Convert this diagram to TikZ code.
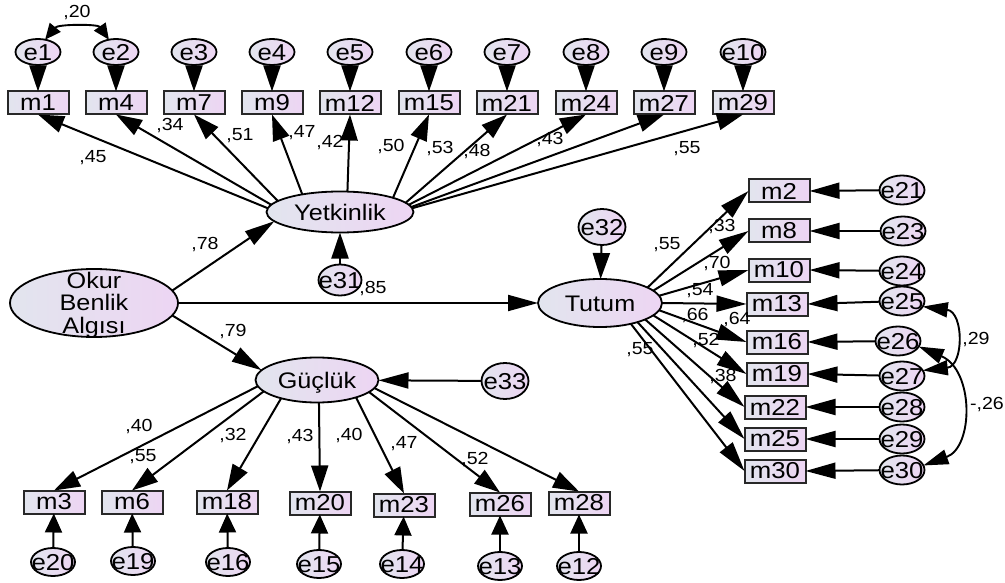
\documentclass[tikz,border=0pt]{standalone}
\usepackage{fontspec}
\setmainfont[FakeStretch=1.12]{Liberation Sans}
\usetikzlibrary{arrows.meta,shapes.geometric}

\definecolor{shadeL}{RGB}{226,229,238}
\definecolor{shadeR}{RGB}{237,213,243}
\definecolor{edgegray}{RGB}{40,40,40}

% zero-size, vertically centred label so that ellipses keep their set size
\newcommand\zc[1]{\raisebox{-.36em}[0pt][0pt]{\makebox[0pt]{#1}}}

\begin{document}
\begin{tikzpicture}[x=1pt,y=-1pt,
  every node/.style={inner sep=0pt,outer sep=0pt},
  obs/.style={draw=edgegray,line width=2pt,left color=shadeL,right color=shadeR,
    minimum width=61pt,minimum height=23pt,font=\fontsize{23}{23}\selectfont},
  err/.style={ellipse,draw=black,line width=1.8pt,left color=shadeL,right color=shadeR,
    minimum width=45pt,minimum height=26pt,font=\fontsize{23}{23}\selectfont},
  errb/.style={err,minimum width=44pt,minimum height=28pt},
  errr/.style={err,minimum width=45pt,minimum height=29pt},
  errc/.style={err,minimum width=47pt,minimum height=36pt},
  lat/.style={ellipse,draw=black,line width=1.8pt,left color=shadeL,right color=shadeR,
    font=\fontsize{22.5}{22.5}\selectfont},
  coef/.style={font=\fontsize{17.5}{17.5}\selectfont},
  arr/.style={line width=2pt,-{Triangle[length=26pt,width=17pt]}},
  arrlong/.style={line width=2pt,-{Triangle[length=30pt,width=16pt]}},
  arrshort/.style={line width=2pt,-{Triangle[length=19pt,width=17pt]}},
  cov/.style={line width=1.9pt,{Triangle[length=16pt,width=14pt]}-{Triangle[length=16pt,width=14pt]}},
  covr/.style={line width=1.9pt,{Triangle[length=25pt,width=15pt]}-{Triangle[length=25pt,width=15pt]}},
]
\useasboundingbox (0,0) rectangle (1005,583);

% ---------- latent variables ----------
\node[lat,minimum width=168pt,minimum height=68pt] (okur) at (94,303) {};
\node[font=\fontsize{22.5}{22.5}\selectfont,align=center] (okurtxt) at (94,305) {Okur\\Benlik\\Algısı};
\node[lat,minimum width=147pt,minimum height=41pt] (yet) at (340,212) {\zc{Yetkinlik}};
\node[lat,minimum width=124pt,minimum height=48pt] (tut) at (600,303) {\zc{Tutum}};
\node[lat,minimum width=123pt,minimum height=45pt] (guc) at (317,380) {\zc{Güçlük}};

% disturbances
\node[err,minimum width=43pt,minimum height=31pt] (e31) at (340,280) {\zc{e31}};
\node[errc] (e32) at (602,227) {\zc{e32}};
\node[errc] (e33) at (505,381) {\zc{e33}};

% ---------- Yetkinlik indicators (top row) ----------
\foreach \n/\e/\x in {m1/e1/38, m4/e2/116, m7/e3/194, m9/e4/272, m12/e5/350,
                      m15/e6/429, m21/e7/507, m24/e8/586, m27/e9/664, m29/e10/743}{
  \node[obs] (\n) at (\x,103) {\n};
  \node[err] (\e) at (\x,52) {\zc{\e}};
  \draw[arr] (\e) -- (\n);
}
\foreach \n/\a in {m1/177, m4/174, m7/170, m9/155, m12/70,
                   m15/15, m21/8, m24/6, m27/4, m29/3}{
  \draw[arr] (yet.\a) -- (\n.south);
}
\draw[cov] (e1.60) .. controls (58,24) and (98,24) .. (e2.120);

% ---------- Tutum indicators (right column) ----------
\foreach \n/\e/\xm/\ym/\xe/\ye/\a in {m2/e21/779/191/902/190/18, m8/e23/779/231/903/231/13,
    m10/e24/779/270/902/271/7, m13/e25/777/304/902/301/0, m16/e26/777/342/898/341/-7,
    m19/e27/777/374/902/376/-13, m22/e28/775/407/902/407/-20,
    m25/e29/775/439/902/439/-27, m30/e30/775/471/902/470/-34}{
  \node[obs] (\n) at (\xm,\ym) {\n};
  \node[errr] (\e) at (\xe,\ye) {\zc{\e}};
  \draw[arrlong] (\e) -- (\n.east);
  \draw[arrlong] (tut.\a) -- (\n.west);
}
\draw[covr] (e25.-15) .. controls (964,312) and (964,366) .. (e27.15);
\draw[covr] (e26.-15) .. controls (974,370) and (974,447) .. (e30.12);

% ---------- Güçlük indicators (bottom row) ----------
\foreach \n/\e/\xm/\ym/\xe/\ye/\a in {m3/e20/54/502/53/562/186, m6/e19/132/502/133/561/192,
    m18/e16/227/502/228/562/207, m20/e15/320/503/319/564/275, m23/e14/404/505/402/564/-24,
    m26/e13/500/504/500/566/-13, m28/e12/579/503/579/566/-8}{
  \node[obs] (\n) at (\xm,\ym) {\n};
  \node[errb] (\e) at (\xe,\ye) {\zc{\e}};
  \draw[arrshort] (\e) -- (\n);
  \draw[arr] (guc.\a) -- (\n.north);
}

% ---------- structural paths ----------
\draw[arrlong] (okur.9) -- (yet.188);
\draw[arrlong] (okur.-9) -- (guc.170);
\draw[arrlong] (okur.east) -- (tut.west);
\draw[arr] (e31) -- (yet);
\draw[arr] (e32) -- (tut);
\draw[arrlong] (e33) -- (guc);

% ---------- estimates ----------
\node[coef] (c20) at (77,13) {,20};
\node[coef] (c45) at (93,158) {,45};
\node[coef] (c34) at (170,126) {,34};
\node[coef] (c51) at (240,136) {,51};
\node[coef] (c47) at (302,133) {,47};
\node[coef] (c42) at (330,143) {,42};
\node[coef] (c50) at (391,147) {,50};
\node[coef] (c53) at (440,149) {,53};
\node[coef] (c48) at (477,152) {,48};
\node[coef] (c43) at (550,140) {,43};
\node[coef] (c55a) at (687,149) {,55};

\node[coef] (c78) at (205,245) {,78};
\node[coef] (c85) at (373,289) {,85};
\node[coef] (c79) at (233,332) {,79};

\node[coef] (c55b) at (667,245) {,55};
\node[coef] (c33) at (722,227) {,33};
\node[coef] (c70) at (717,264) {,70};
\node[coef] (c54) at (700,291) {,54};
\node[coef] (c66) at (695,316) {,66};
\node[coef] (c64) at (737,320) {,64};
\node[coef] (c52a) at (706,341) {,52};
\node[coef] (c38) at (723,377) {,38};
\node[coef] (c55c) at (640,350) {,55};
\node[coef] (c29) at (976,340) {,29};
\node[coef] (c26) at (987,405) {-,26};

\node[coef] (c40a) at (139,427) {,40};
\node[coef] (c55d) at (143,457) {,55};
\node[coef] (c32) at (233,436) {,32};
\node[coef] (c43b) at (300,437) {,43};
\node[coef] (c40b) at (349,436) {,40};
\node[coef] (c47b) at (404,444) {,47};
\node[coef] (c52b) at (475,460) {,52};
\end{tikzpicture}
\end{document}
